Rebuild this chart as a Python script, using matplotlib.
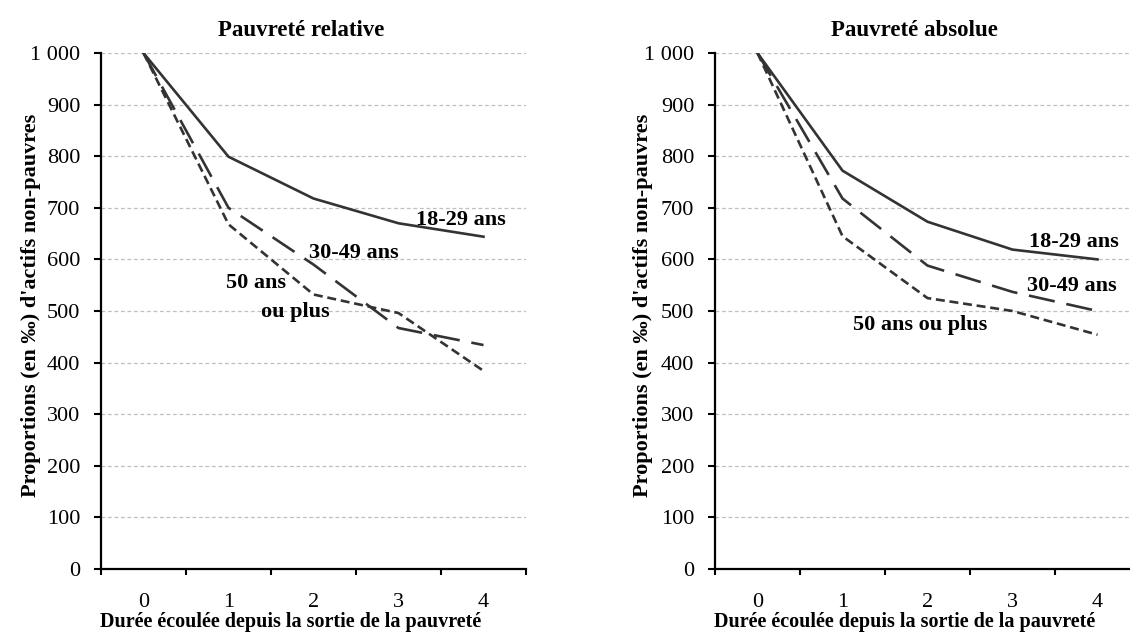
import matplotlib
matplotlib.use('Agg')
import matplotlib.pyplot as plt
from matplotlib.ticker import FixedLocator, NullFormatter

plt.rcParams['font.family'] = ['Liberation Serif', 'DejaVu Serif']

durees = [0, 1, 2, 3, 4]
duree_labels = ['0', '1', '2', '3', '4']
y_ticks = [0, 100, 200, 300, 400, 500, 600, 700, 800, 900, 1000]
y_labels = ['0', '100', '200', '300', '400', '500', '600', '700', '800', '900', '1 000']

# pauvreté relative
rel_18_29 = [1000, 799, 718, 670, 644]
rel_30_49 = [1000, 700, 590, 467, 434]
rel_50_plus = [1000, 668, 532, 496, 384]

# pauvreté absolue
abs_18_29 = [1000, 772, 673, 619, 600]
abs_30_49 = [1000, 718, 588, 537, 500]
abs_50_plus = [1000, 645, 525, 500, 454]

line_col = '#333333'
W, H = 1130, 635


def draw_panel(ax, s1, s2, s3, title):
    ax.plot(durees, s1, color=line_col, lw=1.9, solid_joinstyle='miter')
    ax.plot(durees, s2, color=line_col, lw=1.9, dashes=(10, 4.5))
    ax.plot(durees, s3, color=line_col, lw=1.9, dashes=(3.4, 1.8))
    ax.set_xlim(-0.5, 4.5)
    ax.set_ylim(0, 1000)
    ax.set_yticks(y_ticks)
    ax.set_yticklabels(y_labels, fontsize=16)
    ax.xaxis.set_major_locator(FixedLocator([-0.5, 0.5, 1.5, 2.5, 3.5, 4.5]))
    ax.xaxis.set_major_formatter(NullFormatter())
    ax.xaxis.set_minor_locator(FixedLocator(durees))
    ax.set_xticklabels(duree_labels, minor=True, fontsize=16)
    ax.tick_params(axis='x', which='major', length=4, width=1.5, direction='out')
    ax.tick_params(axis='x', which='minor', length=0, pad=17)
    ax.tick_params(axis='y', length=5, width=1.5, pad=10)
    for s in ['top', 'right']:
        ax.spines[s].set_visible(False)
    for s in ['left', 'bottom']:
        ax.spines[s].set_linewidth(1.6)
    ax.grid(axis='y', color='#BFBFBF', lw=0.9, dashes=(3, 2.2))
    ax.set_axisbelow(True)
    ax.set_title(title, fontsize=16.5, fontweight='bold', x=0.47, pad=12)
    ax.set_xlabel('Durée écoulée depuis la sortie de la pauvreté',
                  fontsize=14.5, fontweight='bold', labelpad=0.5, x=0.446)


fig = plt.figure(figsize=(W / 100, H / 100), dpi=100)
ax1 = fig.add_axes([101 / W, 1 - 569 / H, 425 / W, 516 / H])
ax2 = fig.add_axes([715 / W, 1 - 569 / H, 425 / W, 516 / H])

draw_panel(ax1, rel_18_29, rel_30_49, rel_50_plus, 'Pauvreté relative')
draw_panel(ax2, abs_18_29, abs_30_49, abs_50_plus, 'Pauvreté absolue')

ylab = "Proportions (en ‰) d'actifs non-pauvres"
fig.text(31 / W, 1 - 305 / H, ylab, rotation=90, fontsize=16, fontweight='bold',
         ha='center', va='center')
fig.text(643 / W, 1 - 305 / H, ylab, rotation=90, fontsize=16, fontweight='bold',
         ha='center', va='center')

lab = dict(fontsize=16, fontweight='bold', ha='left', va='center')
ax1.text(3.2, 676, '18-29 ans', **lab)
ax1.text(1.95, 613, '30-49 ans', **lab)
ax1.text(0.97, 554, '50 ans', **lab)
ax1.text(1.38, 499, 'ou plus', **lab)

ax2.text(3.19, 634, '18-29 ans', **lab)
ax2.text(3.17, 548, '30-49 ans', **lab)
ax2.text(1.12, 473, '50 ans ou plus', **lab)

fig.savefig('out.png', dpi=100)
